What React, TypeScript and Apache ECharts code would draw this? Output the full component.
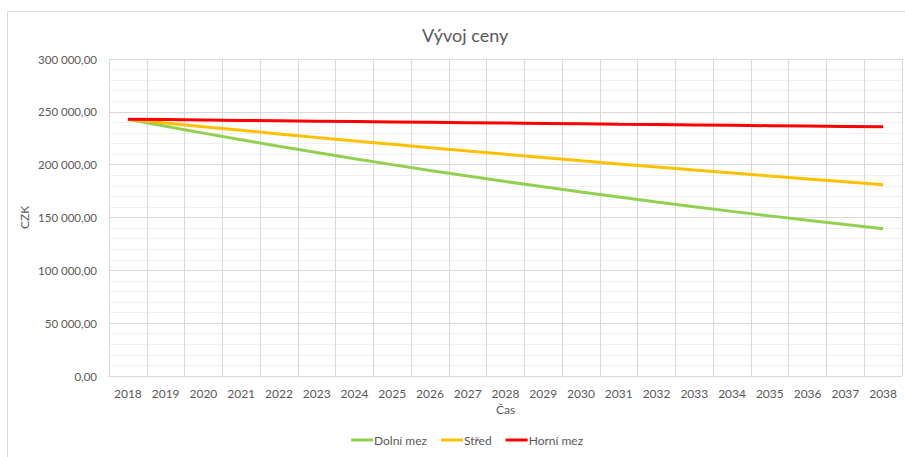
import React, { useEffect, useRef } from "react";
import * as echarts from "echarts";

const years = [
  "2018", "2019", "2020", "2021", "2022", "2023", "2024", "2025", "2026", "2027", "2028",
  "2029", "2030", "2031", "2032", "2033", "2034", "2035", "2036", "2037", "2038",
];
const dolniMez = [
  243000, 236340, 229870, 223570, 217440, 211480, 205690, 200050, 194570, 189240, 184060,
  179010, 174110, 169340, 164700, 160190, 155800, 151530, 147380, 143340, 139410,
];
const stred = [
  243000, 239450, 235960, 232510, 229120, 225770, 222480, 219230, 216030, 212870, 209760,
  206700, 203680, 200710, 197780, 194890, 192050, 189240, 186480, 183760, 181070,
];
const horniMez = [
  243000, 242640, 242270, 241910, 241550, 241180, 240820, 240460, 240100, 239740, 239380,
  239020, 238660, 238300, 237950, 237590, 237230, 236880, 236520, 236170, 235810,
];
const seriesNames = ["Dolní mez", "Střed", "Horní mez"];
const colors = ["#92D050", "#FFC000", "#FF0000"];

const fmt = (v: number) => {
  const s = Math.round(v).toString().replace(/\B(?=(\d{3})+(?!\d))/g, " ");
  return s + ",00";
};

export default function App() {
  const ref = useRef<HTMLDivElement>(null);
  useEffect(() => {
    if (!ref.current) return;
    const chart = echarts.init(ref.current, undefined, { renderer: "svg" });
    const font = "Lato, 'Open Sans', sans-serif";
    const data = [dolniMez, stred, horniMez];
    chart.setOption({
      animation: false,
      textStyle: { fontFamily: font },
      graphic: [
        {
          type: "rect",
          shape: { x: 7.5, y: 11.5, width: 910, height: 460 },
          style: { fill: "none", stroke: "#d9d9d9", lineWidth: 1 },
          silent: true,
        },
      ],
      title: {
        text: "Vývoj ceny",
        left: 417,
        top: 21,
        textStyle: { fontFamily: font, fontSize: 18, fontWeight: "normal", color: "#595959" },
      },
      legend: {
        bottom: 6,
        left: 346,
        icon: "rect",
        itemWidth: 22,
        itemHeight: 3,
        itemGap: 14,
        textStyle: { fontFamily: font, fontSize: 12, color: "#595959", padding: [0, 0, 0, -4] },
        data: seriesNames,
      },
      grid: { left: 109, right: 3, top: 59, bottom: 81, containLabel: false },
      xAxis: {
        type: "category",
        data: years,
        boundaryGap: true,
        name: "Čas",
        nameLocation: "middle",
        nameGap: 27,
        nameMoveOverlap: false,
        nameTextStyle: { fontFamily: font, fontSize: 12, color: "#595959" },
        axisLine: { lineStyle: { color: "#d9d9d9" } },
        axisTick: { show: false },
        axisLabel: { color: "#595959", fontSize: 12, margin: 11, fontFamily: font },
        splitLine: { show: true, lineStyle: { color: "#d9d9d9" } },
      },
      yAxis: {
        type: "value",
        min: 0,
        max: 300000,
        interval: 50000,
        name: "CZK",
        nameLocation: "middle",
        nameGap: 79,
        nameMoveOverlap: false,
        nameTextStyle: { fontFamily: font, fontSize: 12, color: "#595959" },
        axisLine: { show: false },
        axisTick: { show: false },
        axisLabel: { color: "#595959", fontSize: 11.5, margin: 12, fontFamily: font, formatter: fmt },
        splitLine: { lineStyle: { color: "#d9d9d9" } },
        minorTick: { show: false, splitNumber: 5 },
        minorSplitLine: { show: true, lineStyle: { color: "#f0f0f0" } },
      },
      series: seriesNames.map((n, i) => ({
        name: n,
        type: "line",
        data: data[i],
        showSymbol: false,
        symbol: "none",
        lineStyle: { color: colors[i], width: 3 },
        itemStyle: { color: colors[i] },
        z: 3 + i,
      })),
    });
    return () => chart.dispose();
  }, []);
  return (
    <div
      ref={ref}
      style={{ position: "absolute", left: 0, top: 0, width: 905, height: 457, background: "#fff" }}
    />
  );
}
